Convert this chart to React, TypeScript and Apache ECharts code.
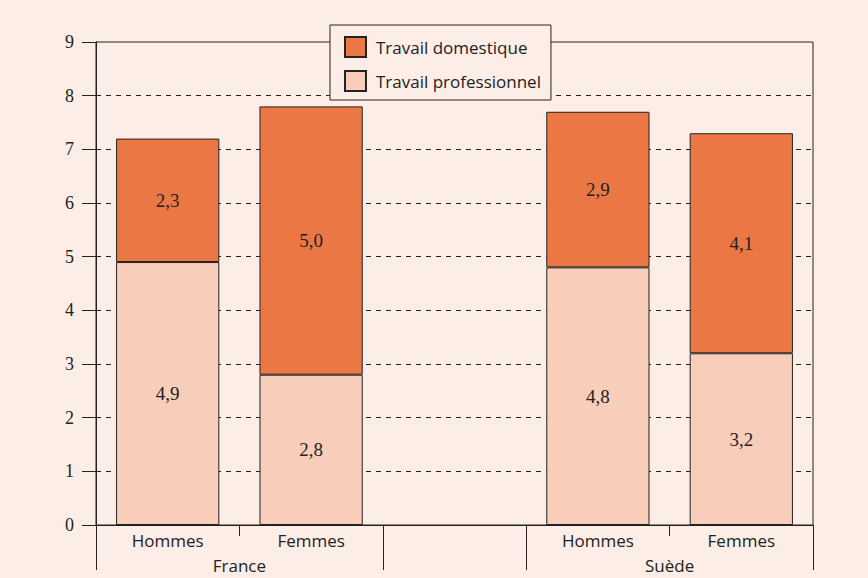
import React, { useEffect, useRef } from "react";
import * as echarts from "echarts";

const categories = ["Hommes", "Femmes", "", "Hommes", "Femmes"];
const groupLabels = ["France", "Suède"];
const professionnel = [4.9, 2.8, null, 4.8, 3.2];
const domestique = [2.3, 5.0, null, 2.9, 4.1];
const yTicks = [0, 9, 1];

const BG = "#fcede6";
const DARK = "#eb7844";
const LIGHT = "#f8cdb9";
const INK = "#222222";
const SANS = "'Open Sans', 'DejaVu Sans', sans-serif";
const SERIF = "'Liberation Serif', 'DejaVu Serif', serif";

const fmt = (p: any) => (p.value == null ? "" : Number(p.value).toFixed(1).replace(".", ","));

export default function App() {
  const ref = useRef<HTMLDivElement>(null);
  useEffect(() => {
    document.body.style.margin = "0";
    const chart = echarts.init(ref.current!, null, { renderer: "svg" });
    chart.setOption({
      animation: false,
      backgroundColor: BG,
      grid: {
        left: 96,
        right: 55,
        top: 42,
        bottom: 53,
        show: true,
        borderColor: INK,
        borderWidth: 1,
        backgroundColor: "transparent",
      },
      legend: {
        orient: "vertical",
        left: 330,
        top: 25,
        data: ["Travail domestique", "Travail professionnel"],
        backgroundColor: BG,
        borderColor: INK,
        borderWidth: 1,
        padding: [11, 10, 8, 14],
        itemWidth: 21,
        itemHeight: 20,
        itemGap: 12,
        icon: "rect",
        textStyle: { fontFamily: SANS, fontSize: 17, color: INK, padding: [0, 0, 0, 5] },
      },
      xAxis: [
        {
          type: "category",
          data: categories,
          position: "bottom",
          axisLine: { show: true, lineStyle: { color: INK, width: 1 } },
          axisTick: { show: true, length: 11, lineStyle: { color: INK } },
          axisLabel: { fontFamily: SANS, fontSize: 17, color: INK, margin: 7, interval: 0 },
          splitLine: { show: false },
        },
        {
          type: "value",
          min: 0,
          max: 5,
          position: "bottom",
          axisLine: { show: false },
          splitLine: { show: false },
          axisTick: {
            show: true,
            length: 45,
            customValues: [0, 2, 3, 5],
            lineStyle: { color: INK },
          },
          axisLabel: {
            customValues: [1, 4],
            formatter: (v: number) => (v === 1 ? groupLabels[0] : v === 4 ? groupLabels[1] : ""),
            fontFamily: SANS,
            fontSize: 17,
            color: INK,
            margin: 32,
          },
        },
      ],
      yAxis: {
        type: "value",
        min: yTicks[0],
        max: yTicks[1],
        interval: yTicks[2],
        axisLine: { show: true, lineStyle: { color: INK, width: 1 } },
        axisTick: { show: true, length: 14, lineStyle: { color: INK } },
        axisLabel: { fontFamily: SERIF, fontSize: 18, color: INK, margin: 22 },
        splitLine: { show: true, showMaxLine: false, showMinLine: false, lineStyle: { color: INK, type: [5, 5], width: 1 } },
      },
      series: [
        {
          name: "Travail professionnel",
          type: "bar",
          stack: "t",
          xAxisIndex: 0,
          data: professionnel,
          barWidth: "72%",
          itemStyle: { color: LIGHT, borderColor: INK, borderWidth: 1 },
          label: { show: true, position: "inside", formatter: fmt, fontFamily: SERIF, fontSize: 19, color: INK },
        },
        {
          name: "Travail domestique",
          type: "bar",
          stack: "t",
          xAxisIndex: 0,
          data: domestique,
          barWidth: "72%",
          itemStyle: { color: DARK, borderColor: INK, borderWidth: 1 },
          label: { show: true, position: "inside", formatter: fmt, fontFamily: SERIF, fontSize: 19, color: INK },
        },
      ],
    });
    return () => chart.dispose();
  }, []);
  return <div ref={ref} style={{ width: 868, height: 578 }} />;
}
